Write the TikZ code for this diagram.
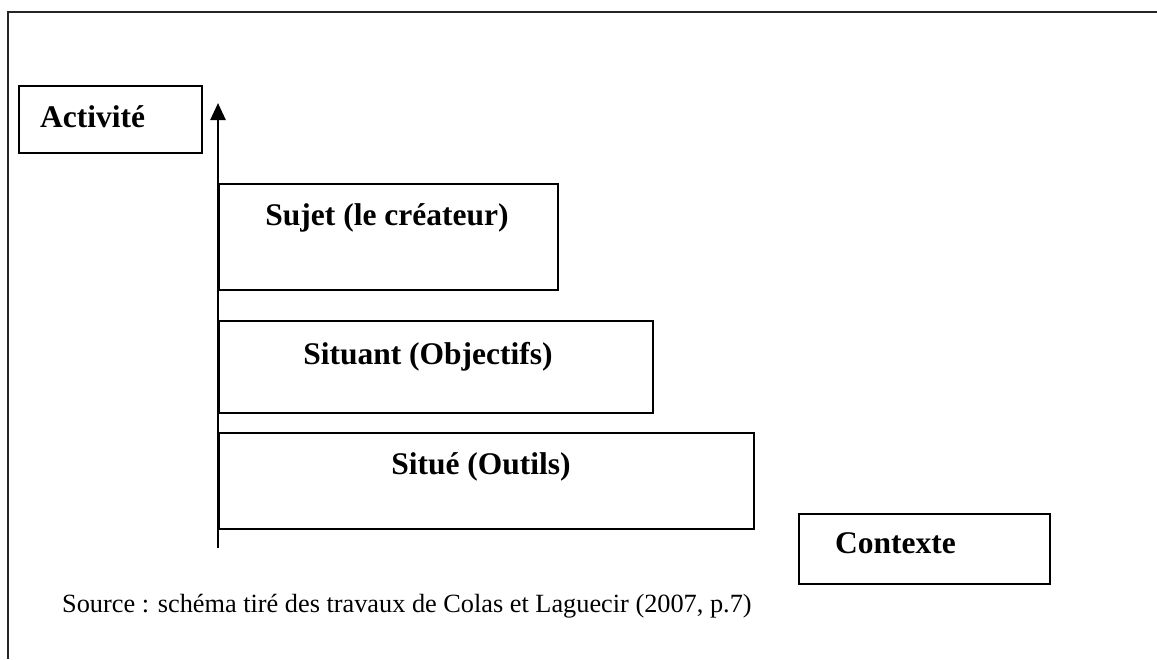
\documentclass[tikz,border=0pt]{standalone}
\usepackage{fontspec}
\setmainfont{Liberation Serif}
\usetikzlibrary{arrows.meta}
\tikzset{
  box/.style={draw=black, line width=1.8pt, rectangle, inner sep=0pt, anchor=north west},
  lbl/.style={font=\fontsize{31.5}{36}\selectfont\bfseries, inner sep=0pt},
  src/.style={font=\fontsize{26.3}{31}\selectfont, inner sep=0pt, anchor=west},
  frame/.style={line width=1.8pt, black!85}
}
\begin{document}
\begin{tikzpicture}[x=1pt,y=-1pt]
\useasboundingbox (0,0) rectangle (1157,659);
% outer frame (open on right and bottom)
\coordinate (ftr) at (1157,12);
\coordinate (ftl) at (8,12);
\coordinate (fbl) at (8,659);
\draw[frame] (ftr) -- (ftl) -- (fbl);
% boxes
\node[box, minimum width=183pt, minimum height=67pt] (act) at (18,85) {};
\node[lbl, anchor=west] (actt) at (40,117) {Activité};
\node[box, minimum width=339pt, minimum height=106pt] (sujet) at (218,183) {};
\node[lbl] (sujett) at (387,218) {Sujet (le créateur)};
\node[box, minimum width=434pt, minimum height=92pt] (situant) at (218,320) {};
\node[lbl] (situantt) at (428,357) {Situant (Objectifs)};
\node[box, minimum width=535pt, minimum height=96pt] (situe) at (218,432) {};
\node[lbl] (situet) at (481,467) {Situé (Outils)};
\node[box, minimum width=251pt, minimum height=70pt] (ctx) at (798,513) {};
\node[lbl, anchor=west] (ctxt) at (835,543) {Contexte};
% axis
\coordinate (axb) at (218,548);
\coordinate (axt) at (218,103);
\draw[line width=2.5pt, -{Triangle[length=17pt,width=15pt]}] (axb) -- (axt);
% source
\node[src] (source) at (62,606) {Source : schéma tiré des travaux de Colas et Laguecir (2007, p.7)};
\end{tikzpicture}
\end{document}
